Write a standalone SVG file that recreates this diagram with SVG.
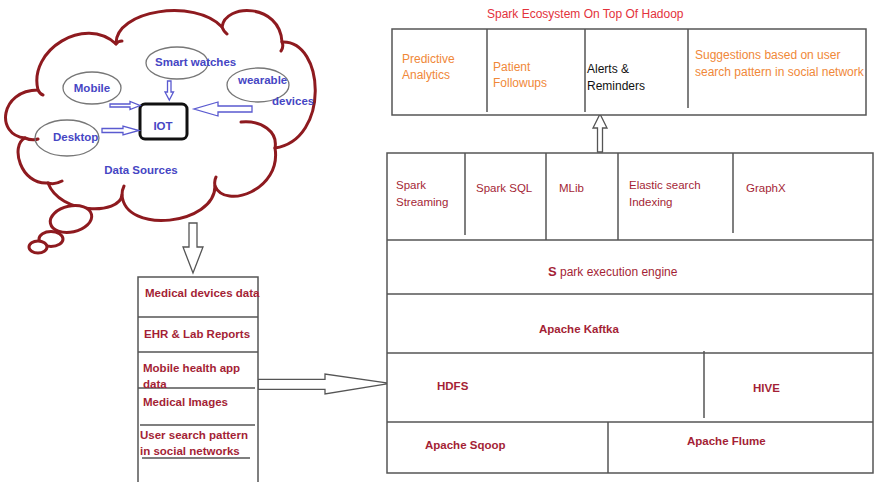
<svg xmlns="http://www.w3.org/2000/svg" width="877" height="482" viewBox="0 0 877 482">
<style>
.cloud{fill:none;stroke:#8e1a1f;stroke-width:3;stroke-linecap:round;stroke-linejoin:round}
.bub{fill:#fff;stroke:#8e1a1f;stroke-width:3}
.ell{fill:none;stroke:#777;stroke-width:1.3}
.barrow{fill:#fff;stroke:#5a5ad0;stroke-width:1.3}
.garrow{fill:#fff;stroke:#555;stroke-width:1.3}
.box{fill:#fff;stroke:#555;stroke-width:1.5}
.ln{stroke:#555;stroke-width:1.5;fill:none}
.bt{font-family:"Liberation Sans",Arial,sans-serif;font-weight:bold;font-size:11.5px;fill:#4646c4}
.rb{font-family:"Liberation Sans",Arial,sans-serif;font-weight:bold;font-size:11.5px;fill:#a41f36}
.rr{font-family:"Liberation Sans",Arial,sans-serif;font-size:11.5px;fill:#a41f36}
.or{font-family:"Liberation Sans",Arial,sans-serif;font-size:12px;fill:#f08838}
.bk{font-family:"Liberation Sans",Arial,sans-serif;font-size:12px;fill:#111}
.ti{font-family:"Liberation Sans",Arial,sans-serif;font-size:12px;fill:#e3323c}
</style>

<g id="cloud">
<path class="cloud" d="M25,138 C-5,135 0,90 38,90 C28,50 85,15 116,44 C115,10 195,-2 222,27 C225,3 280,3 282,42 C325,40 330,140 275,148 C282,190 225,210 215,186 C215,225 125,235 122,195 C120,215 60,215 48,183 C20,185 10,145 25,138"/>
<path class="cloud" d="M25,138 Q32,141 38,139 M38,90 Q40,94 43,95 M116,44 Q118,41 122,41 M222,27 Q224,32 227,34 M282,42 Q284,47 281,51 M241,122 C262,120 278,132 275,148 M215,186 Q214,181 216,177 M122,195 Q122,190 124,186 M48,183 Q55,185 62,181"/>
<ellipse class="bub" cx="71" cy="219" rx="21" ry="13" transform="rotate(-12 71 219)"/>
<ellipse class="bub" cx="51" cy="239" rx="12" ry="7.5"/>
<ellipse class="bub" cx="38" cy="247" rx="9" ry="6"/>
</g>

<g id="mobile"><ellipse class="ell" cx="92" cy="88" rx="29" ry="16"/><text class="bt" x="92" y="92" text-anchor="middle">Mobile</text></g>
<g id="smartwatches"><ellipse class="ell" cx="177" cy="63" rx="31" ry="16"/><text class="bt" x="155" y="66">Smart watches</text></g>
<g id="wearable"><ellipse class="ell" cx="258" cy="85" rx="31" ry="17"/><text class="bt" x="238" y="84">wearable</text><text class="bt" x="272" y="105">devices</text></g>
<g id="desktop"><ellipse class="ell" cx="67" cy="138" rx="32" ry="18"/><text class="bt" x="53" y="141">Desktop</text></g>
<g id="iot"><rect x="140" y="104" width="47" height="35" rx="5" fill="none" stroke="#111" stroke-width="3"/><text class="bt" x="163" y="130" text-anchor="middle">IOT</text></g>
<g id="datasources"><text class="bt" x="141" y="174" text-anchor="middle">Data Sources</text></g>

<g id="connectors">
<polygon class="barrow" points="110,104 130,104 130,101.5 140,105.5 130,109.5 130,107 110,107"/>
<polygon class="barrow" points="102,128.5 123,128.5 123,126 139,130.5 123,135 123,132.5 102,132.5"/>
<polygon class="barrow" points="167.5,81 171,81 171,92 173.5,92 169.3,100 165,92 167.5,92"/>
<polygon class="barrow" points="252,106 218,106 218,102 194,109 218,116 218,112 252,112"/>
<polygon class="garrow" points="189,223 197,223 197,247 203,247 193,273 183,247 189,247"/>
<polygon class="garrow" points="258,379.3 325,379.3 325,374 390,383.3 325,394 325,389.3 258,389.3"/>
<polygon class="garrow" points="597.5,152 602.5,152 602.5,128 607,128 600,114 593,128 597.5,128"/>
</g>

<g id="datalist">
<rect class="box" x="138" y="277" width="120" height="215"/>
<path class="ln" d="M138,317 H258 M138,352 H258 M138,388 H255 M140,425 H255 M142,458 H250"/>
<text class="rb" x="145" y="297">Medical devices data</text>
<text class="rb" x="144" y="338">EHR &amp; Lab Reports</text>
<text class="rb" x="143" y="372">Mobile health app</text>
<text class="rb" x="143" y="388">data</text>
<text class="rb" x="143" y="406">Medical Images</text>
<text class="rb" x="140" y="439">User search pattern</text>
<text class="rb" x="140" y="455">in social networks</text>
</g>

<g id="ecosystem">
<text class="ti" x="487" y="18">Spark Ecosystem On Top Of Hadoop</text>
<rect class="box" x="392" y="29" width="474" height="86"/>
<path class="ln" d="M487,29 V112 M585,29 V112 M688,29 V108"/>
<text class="or" x="402" y="63">Predictive</text>
<text class="or" x="402" y="79">Analytics</text>
<text class="or" x="493" y="71">Patient</text>
<text class="or" x="493" y="87">Followups</text>
<text class="bk" x="587" y="73">Alerts &amp;</text>
<text class="bk" x="587" y="90">Reminders</text>
<text class="or" x="695" y="59">Suggestions based on user</text>
<text class="or" x="695" y="76">search pattern in social network</text>
</g>

<g id="stack">
<rect class="box" x="387" y="153" width="486" height="320"/>
<path class="ln" d="M387,240 H873 M387,294 H873 M387,353 H873 M387,422 H873 M465,153 V235 M546,153 V240 M618,153 V240 M733,153 V233 M704,351 V418 M608,422 V473"/>
<text class="rr" x="396" y="189">Spark</text>
<text class="rr" x="396" y="206">Streaming</text>
<text class="rr" x="476" y="192">Spark SQL</text>
<text class="rr" x="559" y="192">MLib</text>
<text class="rr" x="629" y="189">Elastic search</text>
<text class="rr" x="629" y="206">Indexing</text>
<text class="rr" x="746" y="192">GraphX</text>
<text class="rr" x="548" y="276" style="font-size:12px"><tspan font-weight="bold" font-size="13px">S</tspan> park execution engine</text>
<text class="rb" x="539" y="333">Apache Kaftka</text>
<text class="rb" x="437" y="390">HDFS</text>
<text class="rb" x="753" y="392">HIVE</text>
<text class="rb" x="425" y="449">Apache Sqoop</text>
<text class="rb" x="687" y="445">Apache Flume</text>
</g>
</svg>
